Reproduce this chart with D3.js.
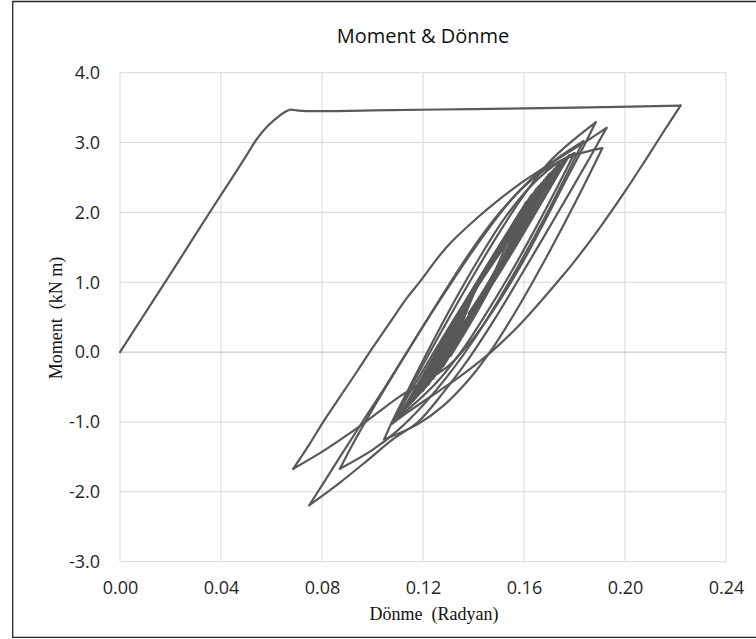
<!DOCTYPE html>
<html>
<head>
<meta charset="utf-8">
<script src="https://cdn.jsdelivr.net/npm/d3@7"></script>
<style>
    body { margin: 0; background: #fff; }
    svg { display: block; }
</style>
</head>
<body>
<div id="chart"></div>
<script>
// Moment - rotation hysteresis (rad, kN m)
var backbone = [[0,0],[0.01,0.56],[0.02,1.12],[0.03,1.69],[0.04,2.25],[0.05,2.81],[0.054,3.04],[0.058,3.22],
    [0.062,3.35],[0.065,3.43],[0.0673,3.47],[0.070,3.46],[0.0739,3.45],[0.10,3.46],[0.14,3.48],[0.18,3.50],[0.222,3.53]];
var unload0 = [[0.215,3.14],[0.2083,2.76],[0.2,2.3],[0.19,1.78],[0.18,1.3],[0.1743,1.05],[0.166,0.7],[0.158,0.38],
    [0.15,0.1],[0.1426,-0.13],[0.135,-0.34],[0.127,-0.54],[0.12,-0.71],[0.114,-0.86],[0.108,-1.02]];
var reload1 = [[0.112,-0.72],[0.12,-0.18],[0.13,0.47],[0.14,1.1],[0.15,1.7],[0.16,2.25],[0.17,2.72],[0.18,3.05],[0.1884,3.29]];
var unload1 = [[0.183,2.9],[0.176,2.42],[0.168,1.86],[0.16,1.32],[0.15,0.72],[0.14,0.2],[0.13,-0.2],[0.12,-0.43],
    [0.111,-0.63],[0.103,-0.84],[0.095,-1.06],[0.087,-1.26],[0.079,-1.45],[0.0686,-1.67]];
var reload2 = [[0.075,-1.32],[0.081,-0.97],[0.0875,-0.62],[0.094,-0.27],[0.1,0.06],[0.107,0.43],[0.1135,0.77],[0.1188,1.01],
    [0.1295,1.51],[0.1414,1.92],[0.15,2.18],[0.1596,2.44],[0.168,2.64],[0.178,2.87],[0.186,3.05],[0.1927,3.21]];
var unload2 = [[0.186,2.78],[0.178,2.28],[0.168,1.66],[0.158,1.05],[0.148,0.45],[0.138,-0.1],[0.128,-0.58],[0.118,-1.0],
    [0.108,-1.25],[0.098,-1.55],[0.087,-1.87],[0.075,-2.19]];
var reload3 = [[0.081,-1.85],[0.088,-1.45],[0.096,-1.0],[0.105,-0.5],[0.115,0.08],[0.125,0.65],[0.135,1.2],[0.145,1.72],
    [0.155,2.18],[0.165,2.55],[0.175,2.82],[0.1835,3.02]];
var unload3 = [[0.178,2.62],[0.17,2.05],[0.16,1.38],[0.15,0.75],[0.14,0.17],[0.13,-0.33],[0.12,-0.76],[0.11,-1.12],[0.1,-1.4],[0.0871,-1.67]];
var reload4 = [[0.092,-1.33],[0.1,-0.82],[0.11,-0.22],[0.12,0.37],[0.13,0.95],[0.14,1.5],[0.15,1.98],[0.16,2.37],[0.17,2.65],
    [0.18,2.82],[0.191,2.92]];
var unload4 = [[0.186,2.55],[0.178,1.98],[0.168,1.3],[0.158,0.66],[0.148,0.08],[0.138,-0.4],[0.128,-0.77],[0.118,-1.03],[0.1046,-1.25]];
var reload5 = [[0.108,-0.98],[0.114,-0.55],[0.122,0.02],[0.132,0.7],[0.142,1.33],[0.152,1.9],[0.162,2.35],[0.171,2.65],[0.18,2.85]];
var unload5 = [[0.174,2.42],[0.165,1.8],[0.155,1.15],[0.145,0.55],[0.135,0.0],[0.125,-0.45],[0.110,-0.95]];

// small cycles in the middle: low tip, rising middle, high tip, falling middle
var clusterLow = [[0.110,-0.95],[0.108,-1.00],[0.112,-0.86],[0.111,-0.90],[0.114,-0.78],[0.113,-0.82],[0.116,-0.70],
    [0.115,-0.74],[0.118,-0.62],[0.117,-0.66],[0.120,-0.55],[0.119,-0.58],[0.122,-0.47],[0.121,-0.50],[0.124,-0.38],
    [0.126,-0.30],[0.128,-0.20],[0.131,-0.05]];
var clusterRise = [[0.1415,0.935],[0.1395,0.88],[0.1405,0.92],[0.1415,0.94],[0.1405,0.92],[0.139,0.865],[0.142,0.98],
    [0.1395,0.88],[0.142,0.98],[0.1395,0.88],[0.1415,0.955],[0.1395,0.88],[0.1415,0.955],[0.1395,0.875],[0.1415,0.95],
    [0.141,0.925],[0.141,0.91],[0.141,0.90]];
var clusterHigh = [[0.178,2.82],[0.176,2.76],[0.174,2.70],[0.177,2.78],[0.172,2.62],[0.170,2.55],[0.173,2.66],
    [0.169,2.50],[0.171,2.58],[0.167,2.42],[0.168,2.46],[0.165,2.34],[0.166,2.38],[0.163,2.25],[0.164,2.28],
    [0.161,2.15],[0.159,2.02],[0.156,1.85]];
var clusterFall = [[0.1455,0.91],[0.1465,0.95],[0.145,0.90],[0.148,1.0],[0.145,0.90],[0.1455,0.925],[0.1465,0.96],
    [0.146,0.94],[0.1465,0.96],[0.146,0.935],[0.146,0.94],[0.146,0.935],[0.146,0.94],[0.146,0.935],[0.1475,0.99],
    [0.147,0.975],[0.1475,0.985],[0.149,1.2]];
var clusterEnd = [0.138, 0.55];

var xTicks = [0, 0.04, 0.08, 0.12, 0.16, 0.20, 0.24];
var yTicks = [-3, -2, -1, 0, 1, 2, 3, 4];

var W = 756, H = 639;
var plotL = 120, plotR = 726, plotT = 72.7, plotB = 561.7;

var svg = d3.select('#chart').append('svg')
    .attr('width', W)
    .attr('height', H);

// chart frame (right side runs off the picture)
svg.append('path')
    .attr('d', 'M 770 1.5 L 12.7 1.5 L 12.7 637.3 L 770 637.3')
    .style('fill', 'none')
    .style('stroke', '#262626')
    .style('stroke-width', 1.3);

var x = d3.scaleLinear().domain([0, 0.24]).range([plotL, plotR]);
var y = d3.scaleLinear().domain([-3, 4]).range([plotB, plotT]);

// grid
svg.append('g').selectAll('line')
    .data(xTicks).enter().append('line')
    .attr('x1', function(d) { return x(d); })
    .attr('x2', function(d) { return x(d); })
    .attr('y1', plotT).attr('y2', plotB)
    .style('stroke', '#d9d9d9').style('stroke-width', 1);
svg.append('g').selectAll('line')
    .data(yTicks).enter().append('line')
    .attr('x1', plotL).attr('x2', plotR)
    .attr('y1', function(d) { return y(d); })
    .attr('y2', function(d) { return y(d); })
    .style('stroke', function(d) { return d === 0 ? '#bfbfbf' : '#d9d9d9'; })
    .style('stroke-width', 1);

// tick labels
svg.append('g')
    .attr('transform', 'translate(0,' + plotB + ')')
    .call(d3.axisBottom(x).tickValues(xTicks).tickSize(0).tickPadding(20)
        .tickFormat(function(d) { return d.toFixed(2); }));
svg.append('g')
    .attr('transform', 'translate(' + plotL + ',0)')
    .call(d3.axisLeft(y).tickValues(yTicks).tickSize(0).tickPadding(20)
        .tickFormat(function(d) { return d.toFixed(1); }));
svg.selectAll('.domain').remove();
svg.selectAll('.tick text')
    .style('font-family', '"Open Sans", sans-serif')
    .style('font-size', '18px')
    .style('fill', '#262626');

// branches: each one starts where the one before it stopped, so the tips stay sharp
var branches = [backbone];
[unload0, reload1, unload1, reload2, unload2, reload3, unload3, reload4, unload4, reload5, unload5].forEach(function(b) {
    var prev = branches[branches.length - 1];
    branches.push([prev[prev.length - 1]].concat(b));
});
for (var i = 0; i < clusterLow.length; i++) {
    var nextLow = i + 1 < clusterLow.length ? clusterLow[i + 1] : clusterEnd;
    branches.push([clusterLow[i], clusterRise[i], clusterHigh[i]]);
    branches.push([clusterHigh[i], clusterFall[i], nextLow]);
}

var line = d3.line()
    .curve(d3.curveCatmullRom.alpha(0.5))
    .x(function(d) { return x(d[0]); })
    .y(function(d) { return y(d[1]); });
svg.append('g').selectAll('path')
    .data(branches).enter().append('path')
    .attr('d', line)
    .style('fill', 'none')
    .style('stroke', '#595959')
    .style('stroke-width', 2.2)
    .style('stroke-linejoin', 'round')
    .style('stroke-linecap', 'round');

// titles
svg.append('text')
    .attr('x', 423).attr('y', 43)
    .style('text-anchor', 'middle')
    .style('font-family', '"Open Sans", sans-serif')
    .style('font-size', '20px')
    .style('fill', '#111')
    .text('Moment & Dönme');

svg.append('text')
    .attr('x', 434).attr('y', 620)
    .style('text-anchor', 'middle')
    .style('font-family', '"Liberation Serif", "Times New Roman", serif')
    .style('font-size', '18px')
    .style('fill', '#111')
    .style('white-space', 'pre')
    .text('Dönme  (Radyan)');

svg.append('text')
    .attr('transform', 'translate(62,318) rotate(-90)')
    .style('text-anchor', 'middle')
    .style('font-family', '"Liberation Serif", "Times New Roman", serif')
    .style('font-size', '18px')
    .style('fill', '#111')
    .style('white-space', 'pre')
    .text('Moment  (kN m)');
</script>
</body>
</html>
